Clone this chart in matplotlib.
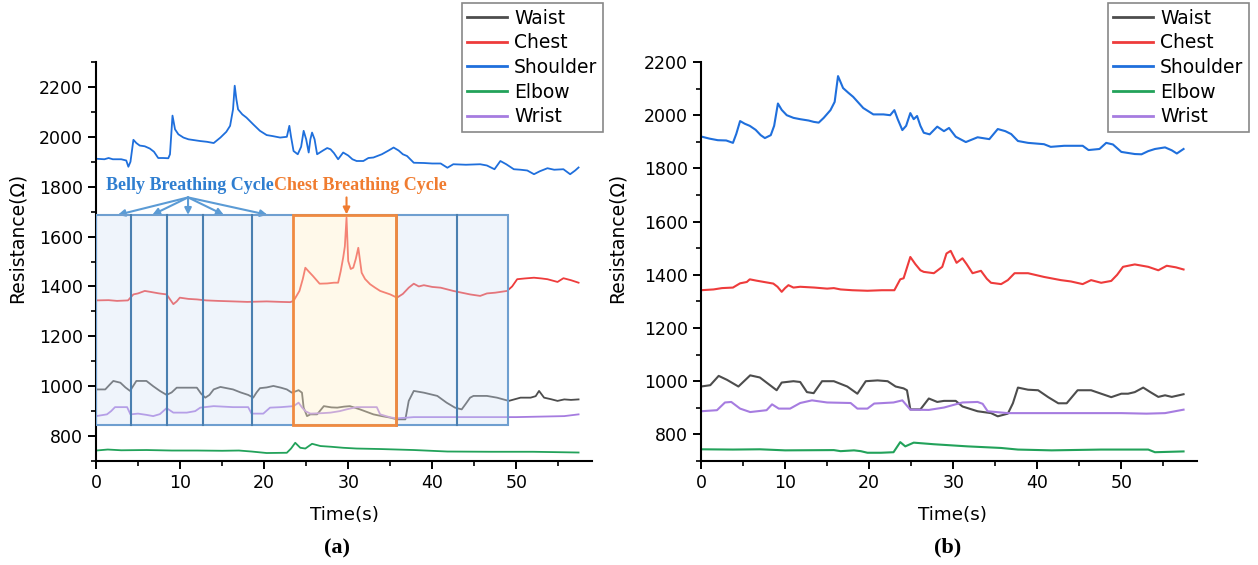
import matplotlib
matplotlib.use("Agg")
import matplotlib.pyplot as plt
from matplotlib.patches import Rectangle
from matplotlib.ticker import MultipleLocator
from matplotlib.colors import to_rgba

plt.rcParams['font.family'] = ['DejaVu Sans']

# ---------------- panel (a): raw signals ----------------
a_shoulder_t = [0, 1.0, 1.5, 2.0, 3.0, 3.6, 3.85, 4.1, 4.45, 4.8, 5.2, 5.8, 6.4, 6.9, 7.4, 8.0, 8.6, 8.8, 9.1, 9.4,
                9.8, 10.4, 11.0, 12.0, 12.4, 13.2, 14.0, 14.8, 15.5, 15.95, 16.3, 16.5, 16.7, 16.9, 17.4, 17.9, 18.7,
                19.5, 20.3, 21.0, 21.9, 22.7, 23.0, 23.2, 23.5, 24.0, 24.4, 24.7, 25.0, 25.3, 25.5, 25.7, 26.0, 26.3,
                27.0, 27.5, 27.9, 28.3, 28.8, 29.4, 30.0, 30.5, 31.0, 31.8, 32.4, 33.0, 34.0, 34.8, 35.4, 36.0, 36.5,
                37.0, 37.8, 39.0, 40.0, 41.0, 41.8, 42.5, 44.0, 45.7, 46.5, 47.4, 48.1, 48.8, 49.7, 50.5, 51.3, 52.1,
                52.8, 53.7, 54.5, 55.6, 56.4, 57.0, 57.4]
a_shoulder_v = [1912, 1910, 1915, 1910, 1910, 1905, 1880, 1900, 1988, 1975, 1965, 1962, 1953, 1940, 1915, 1915, 1914,
                1930, 2085, 2030, 2010, 1997, 1990, 1985, 1983, 1980, 1975, 1997, 2020, 2044, 2110, 2205, 2150, 2110,
                2090, 2077, 2050, 2024, 2007, 2003, 1997, 2000, 2044, 2000, 1943, 1930, 1960, 2024, 1990, 1937, 1990,
                2017, 1990, 1930, 1945, 1955, 1950, 1935, 1910, 1937, 1925, 1910, 1903, 1903, 1915, 1917, 1930, 1945,
                1957, 1945, 1930, 1923, 1896, 1895, 1893, 1893, 1876, 1890, 1888, 1890, 1885, 1870, 1903, 1890, 1870,
                1868, 1865, 1850, 1862, 1874, 1868, 1870, 1850, 1865, 1877]

a_chest_t = [0, 1.5, 2.5, 3.8, 4.45, 5.0, 5.8, 6.5, 7.5, 8.4, 9.2, 9.6, 9.97, 11.0, 12.0, 13.1, 14.5, 16.3, 18.0, 20.3,
             22.0, 23.1, 23.5, 24.2, 24.6, 24.9, 25.3, 25.8, 26.6, 27.5, 28.3, 28.8, 29.1, 29.4, 29.6, 29.8, 30.0,
             30.3, 30.6, 30.9, 31.2, 31.6, 32.0, 32.6, 33.2, 33.8, 34.4, 35.0, 35.8, 36.5, 37.2, 37.8, 38.4, 39.0,
             40.0, 41.0, 42.5, 43.5, 44.5, 45.7, 46.5, 47.5, 48.9, 49.5, 50.1, 51.0, 52.1, 53.0, 53.7, 54.9, 55.6,
             56.5, 57.4]
a_chest_v = [1344, 1345, 1342, 1344, 1368, 1372, 1382, 1378, 1372, 1368, 1329, 1340, 1355, 1350, 1348, 1344, 1342,
             1340, 1338, 1340, 1338, 1337, 1342, 1382, 1430, 1475, 1460, 1442, 1411, 1412, 1415, 1415, 1460, 1515,
             1560, 1676, 1502, 1470, 1475, 1510, 1555, 1455, 1430, 1409, 1395, 1382, 1375, 1368, 1355, 1370, 1395,
             1411, 1400, 1405, 1398, 1395, 1382, 1375, 1368, 1362, 1372, 1375, 1382, 1400, 1429, 1432, 1435, 1432,
             1429, 1418, 1433, 1425, 1415]

a_waist_t = [0, 1.1, 1.6, 2.06, 2.9, 3.5, 4.05, 4.5, 4.8, 6.0, 6.8, 7.6, 8.4, 9.0, 9.6, 11.0, 12.0, 12.5, 13.0, 13.5,
             14.0, 14.8, 16.3, 17.2, 18.1, 18.7, 19.1, 19.5, 20.3, 21.1, 22.0, 22.7, 23.3, 23.8, 24.1, 24.5, 24.7,
             25.1, 25.5, 26.3, 27.1, 28.0, 28.7, 29.5, 30.2, 31.4, 32.2, 33.0, 34.0, 35.0, 35.8, 36.8, 37.2, 37.8,
             39.0, 40.6, 41.7, 42.7, 43.5, 44.0, 44.5, 44.9, 46.5, 47.7, 49.1, 50.5, 51.7, 52.3, 52.7, 53.3, 54.1,
             54.9, 55.7, 56.5, 57.4]
a_waist_v = [987, 987, 1005, 1021, 1014, 995, 981, 1005, 1021, 1021, 1000, 981, 965, 975, 994, 994, 994, 970, 954,
             965, 987, 997, 987, 975, 965, 954, 975, 992, 995, 1001, 994, 987, 974, 980, 984, 974, 914, 880, 887,
             887, 920, 915, 914, 918, 920, 907, 897, 887, 880, 874, 867, 867, 941, 981, 974, 961, 934, 914, 907, 930,
             954, 961, 961, 954, 941, 954, 954, 960, 981, 954, 948, 941, 947, 945, 947]

a_elbow_t = [0, 1.4, 3.0, 6.0, 9.0, 12.0, 15.0, 17.0, 18.5, 20.3, 22.7, 23.2, 23.7, 24.3, 24.9, 25.7, 26.7, 28.0,
             29.4, 31.0, 33.8, 37.8, 41.8, 47.0, 52.0, 57.4]
a_elbow_v = [742, 746, 743, 744, 742, 742, 741, 742, 738, 732, 733, 750, 773, 753, 750, 769, 760, 757, 753, 750, 748,
             744, 738, 737, 737, 734]

a_wrist_t = [0, 1.3, 1.8, 2.26, 3.7, 4.1, 5.0, 6.0, 6.8, 7.6, 8.4, 9.2, 10.8, 11.8, 12.4, 14.0, 16.3, 18.1, 18.5,
             19.9, 20.7, 22.0, 23.5, 24.1, 24.5, 24.9, 25.5, 27.0, 27.9, 29.0, 29.8, 31.0, 33.4, 33.8, 35.0, 35.8,
             37.8, 40.0, 45.0, 50.0, 55.7, 57.4]
a_wrist_v = [880, 887, 900, 916, 916, 887, 890, 885, 880, 888, 912, 894, 894, 900, 914, 920, 916, 916, 890, 890, 914,
             916, 920, 934, 915, 900, 890, 892, 894, 900, 907, 916, 916, 887, 875, 871, 876, 876, 876, 876, 880, 887]

# ---------------- panel (b): smoothed signals ----------------
b_shoulder_t = [0, 1.0, 2.0, 3.0, 3.8, 4.2, 4.65, 5.2, 5.8, 6.5, 7.1, 7.6, 8.3, 8.7, 9.15, 9.6, 10.2, 11.0, 11.8,
                12.8, 13.4, 14.0, 14.6, 15.4, 15.9, 16.3, 16.9, 17.5, 18.1, 19.3, 20.5, 21.7, 22.5, 23.0, 23.4, 23.95,
                24.4, 24.9, 25.3, 25.7, 26.1, 26.5, 27.2, 28.1, 28.9, 29.5, 30.3, 31.5, 32.9, 34.3, 35.3, 36.2, 36.9,
                37.7, 38.9, 40.8, 41.6, 43.2, 45.4, 46.1, 47.4, 48.2, 49.0, 50.0, 51.6, 52.4, 53.2, 54.0, 55.2, 56.0,
                56.6, 57.4]
b_shoulder_v = [1920, 1912, 1906, 1905, 1896, 1930, 1978, 1968, 1960, 1945, 1925, 1914, 1925, 1960, 2044, 2020, 2000,
                1990, 1985, 1980, 1975, 1972, 1990, 2019, 2050, 2147, 2102, 2085, 2069, 2027, 2003, 2003, 2000, 2019,
                1985, 1944, 1960, 2008, 1985, 1997, 1960, 1934, 1928, 1957, 1940, 1952, 1919, 1899, 1917, 1910, 1948,
                1940, 1929, 1903, 1896, 1891, 1881, 1885, 1885, 1869, 1873, 1896, 1890, 1862, 1854, 1853, 1865, 1873,
                1879, 1868, 1856, 1873]

b_chest_t = [0, 1.5, 2.5, 3.8, 4.65, 5.45, 5.8, 6.6, 7.5, 8.6, 9.1, 9.6, 10.0, 10.4, 11.0, 11.8, 13.5, 15.0, 15.8,
             16.6, 18.0, 19.8, 21.5, 23.0, 23.7, 24.1, 24.9, 25.5, 26.1, 26.5, 27.7, 28.7, 29.2, 29.7, 30.4, 31.1,
             31.6, 32.3, 33.3, 34.0, 34.5, 35.7, 36.5, 37.3, 38.9, 40.8, 42.8, 44.0, 45.4, 46.4, 47.6, 48.8, 49.5,
             50.2, 51.6, 53.2, 54.4, 55.4, 56.5, 57.4]
b_chest_v = [1342, 1345, 1350, 1352, 1368, 1373, 1383, 1378, 1373, 1367, 1355, 1336, 1350, 1361, 1352, 1355, 1352,
             1348, 1350, 1345, 1342, 1340, 1342, 1342, 1383, 1387, 1467, 1440, 1417, 1411, 1406, 1430, 1480, 1490,
             1445, 1462, 1440, 1406, 1415, 1385, 1370, 1365, 1380, 1406, 1406, 1392, 1380, 1375, 1365, 1380, 1370,
             1377, 1400, 1430, 1439, 1430, 1417, 1434, 1428, 1420]

b_waist_t = [0, 1.1, 2.1, 3.1, 4.45, 5.85, 7.0, 8.0, 9.0, 9.6, 11.0, 11.8, 12.6, 13.4, 14.4, 15.8, 17.4, 18.6, 19.6,
             21.0, 22.2, 23.15, 24.1, 24.5, 24.9, 26.1, 27.1, 28.1, 28.9, 30.3, 31.1, 32.9, 34.5, 35.3, 36.5, 37.1,
             37.7, 38.9, 40.1, 41.3, 42.5, 43.5, 44.8, 46.4, 47.6, 48.8, 50.0, 50.8, 51.6, 52.6, 53.5, 54.4, 55.2,
             56.0, 57.4]
b_waist_v = [980, 985, 1020, 1005, 980, 1022, 1014, 990, 966, 995, 1000, 997, 959, 955, 1000, 1000, 980, 953, 1000,
             1003, 1000, 980, 973, 966, 894, 894, 935, 922, 926, 926, 905, 887, 880, 868, 878, 917, 976, 968, 966,
             940, 917, 917, 966, 966, 953, 940, 953, 953, 959, 976, 958, 941, 947, 941, 951]

b_elbow_t = [0, 3.8, 7.0, 10.0, 15.8, 16.6, 18.2, 19.0, 19.8, 21.4, 22.9, 23.7, 24.3, 25.3, 27.7, 31.7, 35.7, 37.7,
             41.7, 47.6, 53.2, 54.0, 57.4]
b_elbow_v = [744, 743, 744, 740, 741, 737, 740, 737, 731, 731, 733, 771, 755, 769, 763, 755, 749, 743, 740, 743, 743,
             733, 736]

b_wrist_t = [0, 1.9, 2.85, 3.6, 4.65, 5.85, 7.8, 8.45, 9.25, 10.6, 11.8, 13.2, 15.0, 17.8, 18.6, 19.8, 20.6, 22.9,
             23.95, 24.9, 27.1, 28.9, 31.1, 32.9, 33.5, 34.1, 36.5, 40.0, 45.0, 50.0, 53.0, 55.2, 57.4]
b_wrist_v = [887, 891, 920, 922, 897, 884, 891, 913, 897, 897, 918, 928, 920, 918, 897, 897, 916, 920, 928, 893, 892,
             901, 920, 922, 915, 887, 880, 880, 880, 880, 878, 880, 893]

names = ["Waist", "Chest", "Shoulder", "Elbow", "Wrist"]
colors = ["#4d4d4d", "#ee3b3b", "#1f6fdc", "#22a25a", "#a67ce0"]

# breathing-cycle boundaries (s) in panel (a)
belly_edges = [0, 4.2, 8.5, 12.7, 18.5, 23.4]
belly_edges_2 = [35.7, 42.9, 49.0]
chest_box = (23.4, 35.7)
box_y = (845, 1685)
belly_arrow_x = [2.6, 6.7, 10.95, 15.2, 20.4]

fig = plt.figure(figsize=(12.58, 5.65), dpi=100)
ax_a = fig.add_axes([96 / 1258, 104 / 565, 496 / 1258, 399 / 565])
ax_b = fig.add_axes([701 / 1258, 104 / 565, 496 / 1258, 399 / 565])

series_a = [(a_waist_t, a_waist_v), (a_chest_t, a_chest_v), (a_shoulder_t, a_shoulder_v),
            (a_elbow_t, a_elbow_v), (a_wrist_t, a_wrist_v)]
series_b = [(b_waist_t, b_waist_v), (b_chest_t, b_chest_v), (b_shoulder_t, b_shoulder_v),
            (b_elbow_t, b_elbow_v), (b_wrist_t, b_wrist_v)]

for (t, v), n, c in zip(series_a, names, colors):
    ax_a.plot(t, v, color=c, lw=1.3, label=n, zorder=2)
for (t, v), n, c in zip(series_b, names, colors):
    ax_b.plot(t, v, color=c, lw=1.5, label=n, zorder=2)

# boxes in panel (a): translucent fills over the lines
h = box_y[1] - box_y[0]
belly_fill = to_rgba("#d3e2f5", 0.35)
ax_a.add_patch(Rectangle((0, box_y[0]), belly_edges[-1], h, facecolor=belly_fill, edgecolor="none", zorder=3))
ax_a.add_patch(Rectangle((belly_edges_2[0], box_y[0]), belly_edges_2[-1] - belly_edges_2[0], h,
                         facecolor=belly_fill, edgecolor="none", zorder=3))
ax_a.add_patch(Rectangle((0, box_y[0]), belly_edges_2[-1], h, facecolor="none", edgecolor="#6f9fd0",
                         lw=1.5, zorder=3.2))
for x in belly_edges[1:5] + belly_edges_2[1:2]:
    ax_a.plot([x, x], box_y, color="#4a7fb0", lw=1.5, zorder=3.5)
ax_a.plot([belly_edges_2[0]] * 2, box_y, color="#66788a", lw=1.8, zorder=3.5)
ax_a.add_patch(Rectangle((chest_box[0], box_y[0]), chest_box[1] - chest_box[0], h,
                         facecolor=to_rgba("#fff0cc", 0.4), edgecolor="#f08a40", lw=2, zorder=4))

ax_a.text(11.2, 1803, "Belly Breathing Cycle", color="#2f7ed0", fontsize=13, fontweight="bold",
          family="Liberation Serif", ha="center", va="center")
ax_a.text(31.4, 1803, "Chest Breathing Cycle", color="#f07c30", fontsize=13, fontweight="bold",
          family="Liberation Serif", ha="center", va="center")
for x in belly_arrow_x:
    ax_a.annotate("", xy=(x, box_y[1] + 2), xytext=(10.95, 1757),
                  arrowprops=dict(arrowstyle="-|>", color="#5b9bd5", lw=1.5, mutation_scale=10,
                                  shrinkA=0, shrinkB=0))
ax_a.annotate("", xy=(29.8, box_y[1] + 4), xytext=(29.8, 1757),
              arrowprops=dict(arrowstyle="-|>", color="#f07c30", lw=1.5, mutation_scale=10,
                              shrinkA=0, shrinkB=0))

for ax, top, lab, pos in [(ax_a, 2300, "(a)", (0.486, -0.22)), (ax_b, 2200, "(b)", (0.498, -0.216))]:
    ax.set_xlim(0, 59)
    ax.set_ylim(700, top)
    ax.xaxis.set_major_locator(MultipleLocator(10))
    ax.xaxis.set_minor_locator(MultipleLocator(5))
    ax.yaxis.set_minor_locator(MultipleLocator(100))
    ax.set_yticks(range(800, 2201, 200))
    for s in ["top", "right"]:
        ax.spines[s].set_visible(False)
    for s in ["left", "bottom"]:
        ax.spines[s].set_linewidth(1.5)
    ax.tick_params(which="major", direction="out", length=6, width=1.4, labelsize=12.5)
    ax.tick_params(which="minor", direction="out", length=3.5, width=1.2)
    ax.set_xlabel("Time(s)", fontsize=13.2)
    ax.set_ylabel("Resistance(Ω)", fontsize=13.5)
    ax.text(pos[0], pos[1], lab, transform=ax.transAxes, ha="center", va="center",
            fontsize=16, fontweight="bold", family="Liberation Serif")

ax_a.xaxis.set_label_coords(0.502, -0.113)
ax_b.xaxis.set_label_coords(0.508, -0.113)
ax_a.yaxis.set_label_coords(-0.139, 0.56)
ax_b.yaxis.set_label_coords(-0.149, 0.56)

for ax, xr in [(ax_a, 603 / 1258), (ax_b, 1249 / 1258)]:
    leg = ax.legend(loc="upper right", bbox_to_anchor=(xr, 1 - 3 / 565), bbox_transform=fig.transFigure,
                    borderaxespad=0, fontsize=13.5, labelspacing=0.3, handlelength=2.1, handletextpad=0.4,
                    borderpad=0.3, fancybox=False, framealpha=1)
    leg.get_frame().set_edgecolor("#888888")
    leg.get_frame().set_linewidth(1.2)
    for hl in leg.get_lines():
        hl.set_linewidth(2)

fig.savefig("out.png", dpi=100)
